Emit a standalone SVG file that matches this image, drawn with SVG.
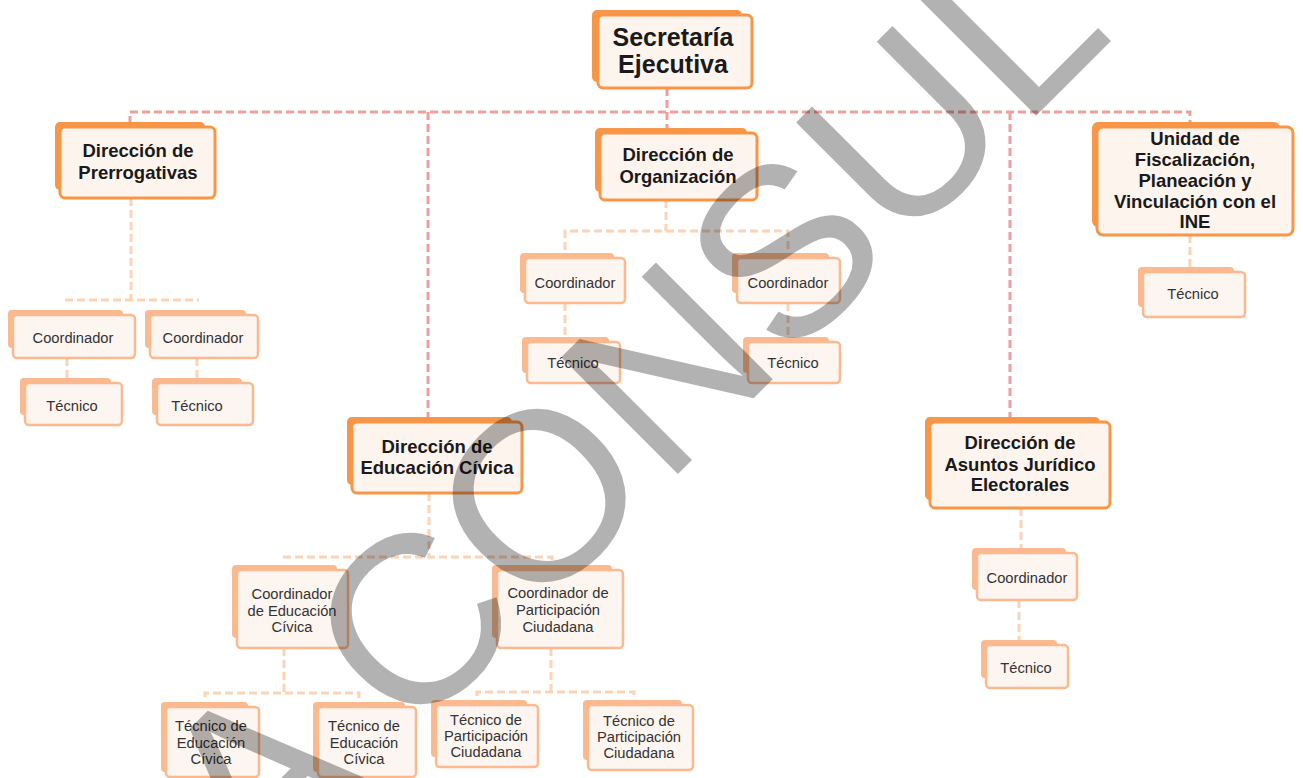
<svg xmlns="http://www.w3.org/2000/svg" width="1303" height="778" viewBox="0 0 1303 778">
<style>
.b1{fill:#f79646}
.f1{fill:#fdf4ee;stroke:#f79646;stroke-width:3}
.b2{fill:#fab98f}
.f2{fill:#fdf5f0;stroke:#fab98f;stroke-width:2.5}
text{font-family:"Liberation Sans",Arial,sans-serif;text-anchor:middle}
.t0{font-size:25px;font-weight:bold;fill:#1a1a1a}
.t1{font-size:18.5px;font-weight:bold;fill:#1a1a1a}
.t2{font-size:14.7px;fill:#333}
.ctop{fill:none;stroke:#ee9f9c;stroke-width:3;stroke-dasharray:8 4}
.clow{fill:none;stroke:#fbd3b5;stroke-width:3;stroke-dasharray:8 4}
.wm{font-size:240px;fill:#000;fill-opacity:0.3;text-anchor:start}
</style>
<rect width="1303" height="778" fill="#fff"/>
<g id="connectors">
<path class="ctop" d="M667 88 V133"/>
<path class="ctop" d="M130 124 V112 H1190 V124"/>
<path class="ctop" d="M428 112 V418"/>
<path class="ctop" d="M1010 112 V418"/>
<path class="clow" d="M131 198 V300"/>
<path class="clow" d="M65 300 H199"/>
<path class="clow" d="M67 358 V380"/>
<path class="clow" d="M197 358 V380"/>
<path class="clow" d="M666 200 V231"/>
<path class="clow" d="M565 250 V231 H788 V250"/>
<path class="clow" d="M565 303 V338"/>
<path class="clow" d="M788 303 V338"/>
<path class="clow" d="M1190 235 V268"/>
<path class="clow" d="M429 493 V557"/>
<path class="clow" d="M283 557 H552 V563"/>
<path class="clow" d="M284 648 V693"/>
<path class="clow" d="M205 697 V693 H359 V698"/>
<path class="clow" d="M551 648 V692"/>
<path class="clow" d="M477 696 V692 H634 V696"/>
<path class="clow" d="M1021 508 V550"/>
<path class="clow" d="M1019 600 V642"/>
</g>
<g id="n-sec"><rect class="b1" x="592" y="10" width="150" height="72" rx="5"/><rect class="f1" x="598" y="15" width="154" height="73" rx="5"/><text class="t0" x="673" y="45.5">Secretaría</text><text class="t0" x="673" y="73">Ejecutiva</text></g>
<g id="n-prer"><rect class="b1" x="55" y="122" width="150" height="68" rx="5"/><rect class="f1" x="60" y="127" width="155" height="71" rx="5"/><text class="t1" x="138" y="157">Dirección de</text><text class="t1" x="138" y="178.5">Prerrogativas</text></g>
<g id="n-org"><rect class="b1" x="595" y="128" width="152" height="64" rx="5"/><rect class="f1" x="600" y="133" width="157" height="67" rx="5"/><text class="t1" x="678" y="161">Dirección de</text><text class="t1" x="678" y="183">Organización</text></g>
<g id="n-uni"><rect class="b1" x="1092" y="122" width="188" height="105" rx="6"/><rect class="f1" x="1097" y="127" width="196" height="108" rx="6"/><text class="t1" x="1195" y="145">Unidad de</text><text class="t1" x="1195" y="166">Fiscalización,</text><text class="t1" x="1195" y="187">Planeación y</text><text class="t1" x="1195" y="207.5">Vinculación con el</text><text class="t1" x="1195" y="228">INE</text></g>
<g id="n-ec"><rect class="b1" x="347" y="417" width="165" height="68" rx="5"/><rect class="f1" x="352" y="422" width="170" height="71" rx="5"/><text class="t1" x="437" y="453">Dirección de</text><text class="t1" x="437" y="474">Educación Cívica</text></g>
<g id="n-aj"><rect class="b1" x="925" y="417" width="175" height="83" rx="5"/><rect class="f1" x="930" y="422" width="180" height="86" rx="5"/><text class="t1" x="1020" y="449">Dirección de</text><text class="t1" x="1020" y="471">Asuntos Jurídico</text><text class="t1" x="1020" y="491">Electorales</text></g>
<g id="n-p-c1"><rect class="b2" x="8" y="310" width="115" height="38" rx="4"/><rect class="f2" x="13" y="315" width="122" height="43" rx="4"/><text class="t2" x="73" y="343">Coordinador</text></g>
<g id="n-p-c2"><rect class="b2" x="145" y="310" width="101" height="38" rx="4"/><rect class="f2" x="150" y="315" width="108" height="43" rx="4"/><text class="t2" x="203" y="343">Coordinador</text></g>
<g id="n-p-t1"><rect class="b2" x="20" y="378" width="91" height="37" rx="4"/><rect class="f2" x="25" y="383" width="97" height="42" rx="4"/><text class="t2" x="72" y="411">Técnico</text></g>
<g id="n-p-t2"><rect class="b2" x="152" y="378" width="90" height="37" rx="4"/><rect class="f2" x="157" y="383" width="96" height="42" rx="4"/><text class="t2" x="197" y="411">Técnico</text></g>
<g id="n-o-c1"><rect class="b2" x="520" y="253" width="94" height="40" rx="4"/><rect class="f2" x="525" y="258" width="100" height="45" rx="4"/><text class="t2" x="575" y="288">Coordinador</text></g>
<g id="n-o-c2"><rect class="b2" x="732" y="253" width="97" height="40" rx="4"/><rect class="f2" x="737" y="258" width="103" height="45" rx="4"/><text class="t2" x="788" y="288">Coordinador</text></g>
<g id="n-o-t1"><rect class="b2" x="522" y="337" width="87" height="36" rx="4"/><rect class="f2" x="527" y="342" width="93" height="41" rx="4"/><text class="t2" x="573" y="368">Técnico</text></g>
<g id="n-o-t2"><rect class="b2" x="743" y="337" width="86" height="36" rx="4"/><rect class="f2" x="748" y="342" width="92" height="41" rx="4"/><text class="t2" x="793" y="368">Técnico</text></g>
<g id="n-u-t"><rect class="b2" x="1138" y="267" width="96" height="40" rx="4"/><rect class="f2" x="1143" y="272" width="102" height="45" rx="4"/><text class="t2" x="1193" y="299">Técnico</text></g>
<g id="n-ec-c1"><rect class="b2" x="232" y="565" width="105" height="73" rx="4"/><rect class="f2" x="237" y="570" width="111" height="78" rx="4"/><text class="t2" x="292" y="599">Coordinador</text><text class="t2" x="292" y="615.5">de Educación</text><text class="t2" x="292" y="632">Cívica</text></g>
<g id="n-ec-c2"><rect class="b2" x="492" y="565" width="120" height="73" rx="4"/><rect class="f2" x="497" y="570" width="126" height="78" rx="4"/><text class="t2" x="558" y="598">Coordinador de</text><text class="t2" x="558" y="615">Participación</text><text class="t2" x="558" y="632">Ciudadana</text></g>
<g id="n-ec-t1"><rect class="b2" x="161" y="702" width="87" height="70" rx="4"/><rect class="f2" x="166" y="707" width="93" height="70" rx="4"/><text class="t2" x="211" y="731">Técnico de</text><text class="t2" x="211" y="747.5">Educación</text><text class="t2" x="211" y="764">Cívica</text></g>
<g id="n-ec-t2"><rect class="b2" x="313" y="702" width="92" height="70" rx="4"/><rect class="f2" x="318" y="707" width="98" height="70" rx="4"/><text class="t2" x="364" y="731">Técnico de</text><text class="t2" x="364" y="747.5">Educación</text><text class="t2" x="364" y="764">Cívica</text></g>
<g id="n-ec-t3"><rect class="b2" x="431" y="700" width="96" height="57" rx="4"/><rect class="f2" x="436" y="705" width="102" height="62" rx="4"/><text class="t2" x="486" y="725">Técnico de</text><text class="t2" x="486" y="741">Participación</text><text class="t2" x="486" y="757">Ciudadana</text></g>
<g id="n-ec-t4"><rect class="b2" x="583" y="700" width="99" height="60" rx="4"/><rect class="f2" x="588" y="705" width="105" height="65" rx="4"/><text class="t2" x="639" y="726">Técnico de</text><text class="t2" x="639" y="742">Participación</text><text class="t2" x="639" y="758">Ciudadana</text></g>
<g id="n-aj-c"><rect class="b2" x="972" y="548" width="94" height="42" rx="4"/><rect class="f2" x="977" y="553" width="100" height="47" rx="4"/><text class="t2" x="1027" y="583">Coordinador</text></g>
<g id="n-aj-t"><rect class="b2" x="981" y="640" width="76" height="38" rx="4"/><rect class="f2" x="986" y="645" width="82" height="43" rx="4"/><text class="t2" x="1026" y="673">Técnico</text></g>
<g id="watermark"><text class="wm" transform="translate(258.5,893.5) rotate(-45)">A CONSUL</text></g>
</svg>
